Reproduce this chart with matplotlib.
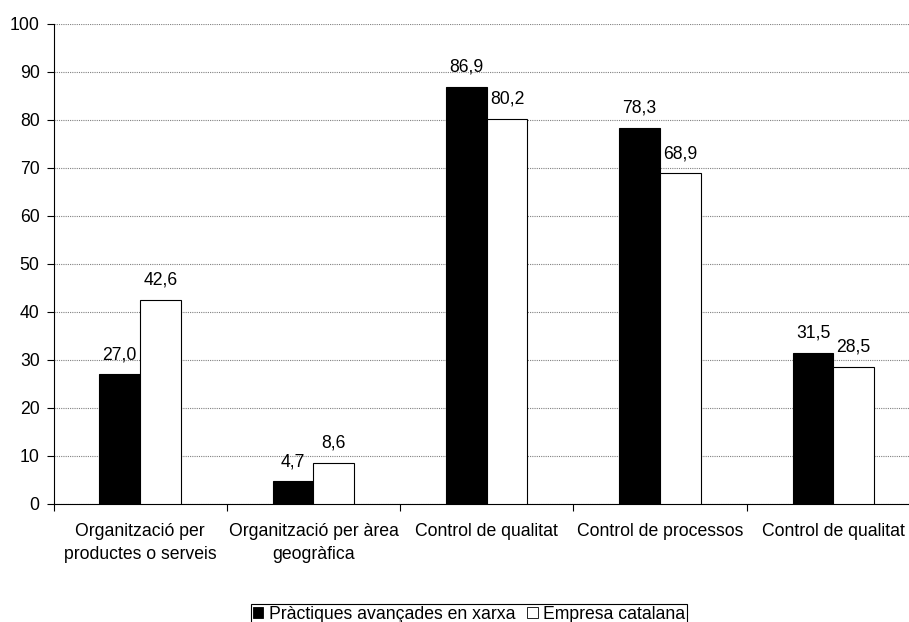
import matplotlib
matplotlib.use("Agg")
import matplotlib.pyplot as plt
import numpy as np
from matplotlib.patches import Patch

plt.rcParams['font.family'] = ['Liberation Sans', 'DejaVu Sans']

categories = ["Organització per\nproductes o serveis",
              "Organització per àrea\ngeogràfica",
              "Control de qualitat",
              "Control de processos",
              "Control de qualitat"]
xarxa = [27.0, 4.7, 86.9, 78.3, 31.5]
catalana = [42.6, 8.6, 80.2, 68.9, 28.5]
series_names = ["Pràctiques avançades en xarxa", "Empresa catalana"]
yticks = list(range(0, 101, 10))

FS = 12.7
W, H = 909, 622
fig = plt.figure(figsize=(W / 100, H / 100), dpi=100)
left, right, top, bottom = 53.5, 53.5 + 5 * 173.3, 24, 504
ax = fig.add_axes([left / W, (H - bottom) / H, (right - left) / W, (bottom - top) / H])

x = np.arange(len(categories))
bw = 0.235
ax.bar(x - bw / 2, xarxa, bw, color='black', edgecolor='black', linewidth=0.8, zorder=3)
ax.bar(x + bw / 2, catalana, bw, color='white', edgecolor='black', linewidth=0.8, zorder=3)

def fmt(v):
    return f"{v:.1f}".replace('.', ',')

for xi, v in zip(x - bw / 2, xarxa):
    ax.annotate(fmt(v), (xi, v), xytext=(0, 11), textcoords='offset points',
                ha='center', va='baseline', fontsize=FS)
for xi, v in zip(x + bw / 2, catalana):
    ax.annotate(fmt(v), (xi, v), xytext=(0, 11), textcoords='offset points',
                ha='center', va='baseline', fontsize=FS)

ax.set_xlim(-0.5, len(categories) - 0.5)
ax.set_ylim(0, 100)
ax.set_yticks(yticks)
ax.set_yticklabels([str(t) for t in yticks], fontsize=FS)
ax.yaxis.grid(True, linestyle=(0, (1, 1)), color='#808080', linewidth=0.8, zorder=0)
ax.set_axisbelow(True)

# category labels at centres, tick marks on the category boundaries
ax.set_xticks(x)
ax.set_xticklabels(categories, fontsize=FS, linespacing=1.45)
ax.tick_params(axis='x', which='major', length=0, pad=14)
ax.set_xticks(np.arange(-0.5, len(categories), 1.0), minor=True)
ax.tick_params(axis='x', which='minor', length=5, width=0.8, direction='out')
ax.tick_params(axis='y', length=5, width=0.8, direction='out', pad=5)

for s in ['top', 'right']:
    ax.spines[s].set_visible(False)
for s in ['left', 'bottom']:
    ax.spines[s].set_linewidth(0.8)
    ax.spines[s].set_color('black')

handles = [Patch(facecolor='black', edgecolor='black', linewidth=0.6),
           Patch(facecolor='white', edgecolor='black', linewidth=0.6)]
leg = fig.legend(handles, series_names, loc='upper left',
                 bbox_to_anchor=(251 / W, (H - 604) / H), ncol=2, fontsize=FS,
                 frameon=True, fancybox=False, framealpha=1, edgecolor='black',
                 handlelength=0.6, handleheight=0.6, handletextpad=0.3,
                 columnspacing=0.7, borderpad=0.1, borderaxespad=0)
leg.get_frame().set_linewidth(0.8)

fig.savefig("out.png", dpi=100)
